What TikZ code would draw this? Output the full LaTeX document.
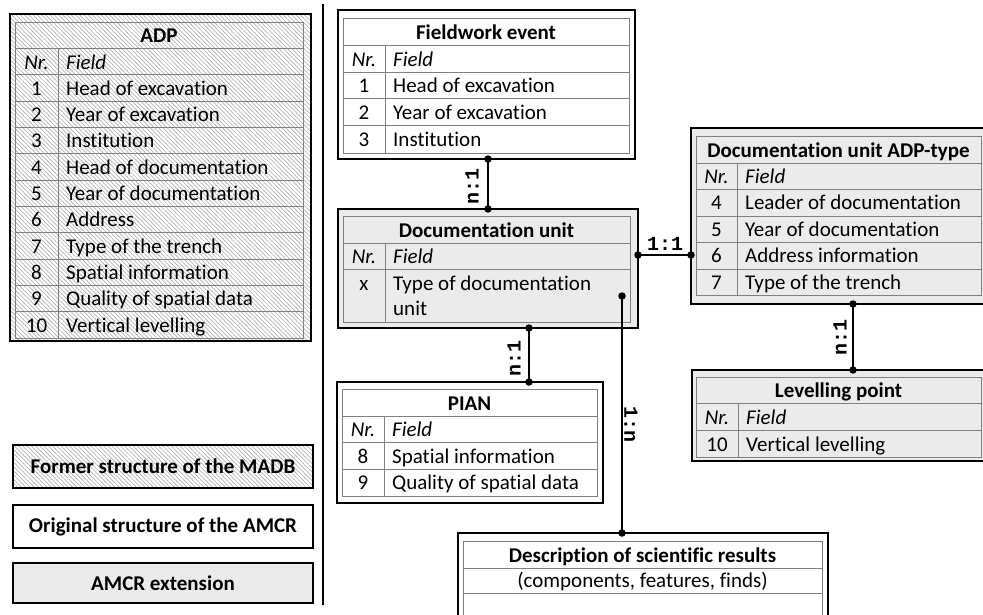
\documentclass[tikz,border=0pt]{standalone}
\usepackage{fontspec}
\setmainfont{Carlito}[Ligatures={NoCommon}]
\newfontfamily\cardfont{Liberation Mono}
\usetikzlibrary{patterns.meta}
\tikzset{
  box/.style={draw=black, line width=2.8pt, inner sep=0pt, outer sep=0pt, anchor=north west},
  hatch/.style={pattern={Lines[angle=-45,distance=3pt,line width=0.7pt]}, pattern color=gray!60},
  orig/.style={fill=white},
  ext/.style={fill=gray!16},
  grid/.style={draw=gray, line width=0.9pt},
  ttl/.style={font=\fontsize{21}{25}\selectfont\bfseries, anchor=base, inner sep=0pt},
  num/.style={font=\fontsize{21}{25}\selectfont, anchor=base, inner sep=0pt},
  fld/.style={font=\fontsize{21}{25}\selectfont, anchor=base west, inner sep=0pt},
  legend/.style={font=\fontsize{21}{25}\selectfont\bfseries},
  conn/.style={draw=black, line width=2.8pt},
  dotnode/.style={circle, fill=black, inner sep=0pt, minimum size=7.5pt},
  card/.style={font=\cardfont\bfseries\fontsize{20}{22}\selectfont, inner sep=0pt},
  sep/.style={draw=black, line width=2pt}
}
\newcommand\trow[6]{\node[num] (#1n) at ({(#2+#3)/2},{#4}) {#5};
  \node[fld] (#1f) at ({#3+8},{#4}) {#6};}
\begin{document}
\begin{tikzpicture}[x=1pt,y=-1pt]
\useasboundingbox (0,0) rectangle (983,614);
\clip (0,0) rectangle (983,614);

% separator
\coordinate (sepTop) at (323,4);
\coordinate (sepBot) at (323,605);
\draw[sep] (sepTop) -- (sepBot);

% ---------- ADP ----------
\node[box, hatch, minimum width=301, minimum height=327] (adp) at (10,14) {};
\draw[grid] (15,22) rectangle (303,338);
\foreach \y in {48.3,74.7,101,127.3,153.7,180,206.3,232.7,259,285.3,311.7}
  \draw[grid] (15,\y) -- (303,\y);
\draw[grid] (58,48.3) -- (58,338);
\node[ttl] (adpT) at (159,42.3) {ADP};
\trow{adpH}{15}{58}{69}{\itshape Nr.}{\itshape Field}
\foreach \t [count=\i] in {Head of excavation,Year of excavation,Institution,Head of documentation,Year of documentation,Address,Type of the trench,Spatial information,Quality of spatial data,Vertical levelling}
  {\trow{adp\i}{15}{58}{69+\i*26.33}{\i}{\t}}

% ---------- Legend ----------
\node[box, hatch, legend, minimum width=300, minimum height=43] (lg1) at (13,445) {Former structure of the MADB};
\node[box, orig, legend, minimum width=300, minimum height=43] (lg2) at (13,505) {Original structure of the AMCR};
\node[box, ext, legend, minimum width=300, minimum height=40] (lg3) at (13,563) {AMCR extension};

% ---------- Fieldwork event ----------
\node[box, orig, minimum width=297, minimum height=149] (fw) at (338,10) {};
\draw[grid] (343,18) rectangle (629,153);
\foreach \y in {45,72,98.5,125}
  \draw[grid] (343,\y) -- (629,\y);
\draw[grid] (385,45) -- (385,153);
\node[ttl] (fwT) at (486,39) {Fieldwork event};
\trow{fwH}{343}{385}{66}{\itshape Nr.}{\itshape Field}
\trow{fw1}{343}{385}{92.5}{1}{Head of excavation}
\trow{fw2}{343}{385}{119}{2}{Year of excavation}
\trow{fw3}{343}{385}{146}{3}{Institution}

% ---------- Documentation unit ----------
\node[box, ext, minimum width=300, minimum height=119] (du) at (338,209) {};
\draw[grid] (343,216) rectangle (630,322);
\foreach \y in {243,269}
  \draw[grid] (343,\y) -- (630,\y);
\draw[grid] (385,243) -- (385,322);
\node[ttl] (duT) at (486.5,237) {Documentation unit};
\trow{duH}{343}{385}{263.5}{\itshape Nr.}{\itshape Field}
\trow{du1}{343}{385}{290}{x}{Type of documentation}
\node[fld] (du1b) at (393,315.5) {unit};

% ---------- Documentation unit ADP-type ----------
\node[box, ext, minimum width=297, minimum height=176] (adpt) at (691,128) {};
\draw[grid] (696,136) rectangle (981,295);
\foreach \y in {163,189.5,216,242.5,269}
  \draw[grid] (696,\y) -- (981,\y);
\draw[grid] (737,163) -- (737,295);
\node[ttl] (adptT) at (838.5,157) {Documentation unit ADP-type};
\trow{adptH}{696}{737}{183.5}{\itshape Nr.}{\itshape Field}
\foreach \n/\t [count=\i] in {4/Leader of documentation,5/Year of documentation,6/Address information,7/Type of the trench}
  {\trow{adpt\i}{696}{737}{183.5+\i*26.4}{\n}{\t}}

% ---------- Levelling point ----------
\node[box, ext, minimum width=296, minimum height=91] (lev) at (692,370) {};
\draw[grid] (696,377) rectangle (981,457);
\foreach \y in {403.5,430}
  \draw[grid] (696,\y) -- (981,\y);
\draw[grid] (738,403.5) -- (738,457);
\node[ttl] (levT) at (838.5,397.5) {Levelling point};
\trow{levH}{696}{738}{424}{\itshape Nr.}{\itshape Field}
\trow{lev1}{696}{738}{451}{10}{Vertical levelling}

% ---------- PIAN ----------
\node[box, orig, minimum width=266, minimum height=121] (pian) at (337,382) {};
\draw[grid] (342,389) rectangle (597,496);
\foreach \y in {416,442.5,469}
  \draw[grid] (342,\y) -- (597,\y);
\draw[grid] (384,416) -- (384,496);
\node[ttl] (pianT) at (469.5,410) {PIAN};
\trow{pianH}{342}{384}{436.5}{\itshape Nr.}{\itshape Field}
\trow{pian1}{342}{384}{463}{8}{Spatial information}
\trow{pian2}{342}{384}{489.5}{9}{Quality of spatial data}

% ---------- Description of scientific results ----------
\node[box, orig, minimum width=370, minimum height=100] (desc) at (458,533) {};
\draw[grid] (463,541) rectangle (822,640);
\foreach \y in {568,593.5}
  \draw[grid] (463,\y) -- (822,\y);
\node[ttl] (descT) at (642.5,562) {Description of scientific results};
\node[num] (descS) at (642.5,587.5) {(components, features, finds)};

% ---------- Connectors ----------
\node[dotnode] (d1a) at (488,159) {};
\node[dotnode] (d1b) at (488,209) {};
\node[dotnode] (d2a) at (638,255) {};
\node[dotnode] (d2b) at (691,255) {};
\node[dotnode] (d3a) at (853,304) {};
\node[dotnode] (d3b) at (853,370) {};
\node[dotnode] (d4a) at (529,328) {};
\node[dotnode] (d4b) at (529,382) {};
\node[dotnode] (d5a) at (622,296) {};
\node[dotnode] (d5b) at (622,533) {};
\draw[conn] (d1a.center) -- (d1b.center);
\draw[conn] (d2a.center) -- (d2b.center);
\draw[conn] (d3a.center) -- (d3b.center);
\draw[conn] (d4a.center) -- (d4b.center);
\draw[conn] (d5a.center) -- (d5b.center);

\node[card, rotate=90] (c1) at (472,186) {n:1};
\node[card] (c2) at (665,244) {1:1};
\node[card, rotate=90] (c3) at (840,337) {n:1};
\node[card, rotate=90] (c4) at (514,358) {n:1};
\node[card, rotate=-90] (c5) at (631,424) {1:n};
\end{tikzpicture}
\end{document}
